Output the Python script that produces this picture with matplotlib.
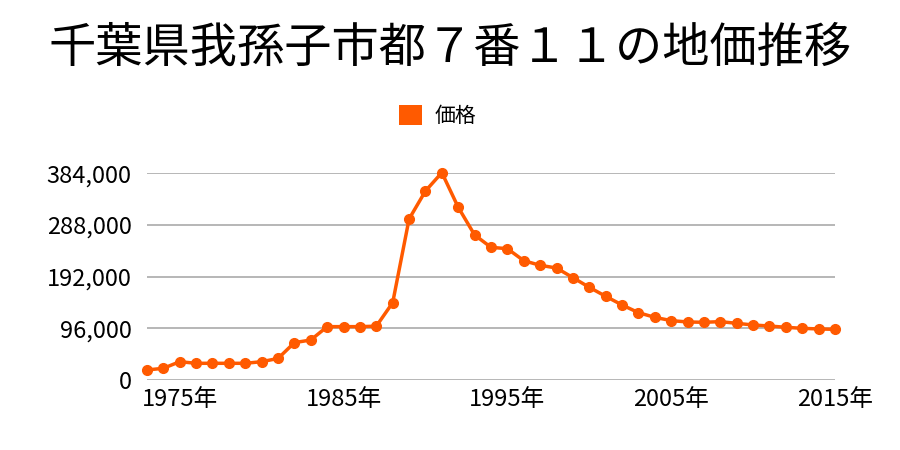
import matplotlib
matplotlib.use("Agg")
import matplotlib.pyplot as plt
from matplotlib.ticker import FuncFormatter
from matplotlib.patches import Patch

plt.rcParams['font.family'] = ['Noto Sans CJK JP', 'DejaVu Sans']

title = "千葉県我孫子市都７番１１の地価推移"
series_name = "価格"
years = list(range(1973, 2016))
prices = [18600, 21700, 34000, 31000, 31000, 31000, 31000, 34000, 40000, 69400,
          74300, 99100, 99100, 99100, 100000, 143700, 299200, 351200, 385300, 320900,
          269500, 246500, 244000, 221700, 213100, 208100, 190200, 172200, 155500, 139400,
          125100, 116400, 110300, 107800, 107200, 108400, 105300, 102200, 100300, 97900,
          96000, 94800, 94100]
y_ticks = [0, 96000, 192000, 288000, 384000]
x_ticks = [1975, 1985, 1995, 2005, 2015]

color = "#FF5A00"

fig = plt.figure(figsize=(9, 4.5), dpi=100)
ax = fig.add_axes([0.1633, 0.1556, 0.9278 - 0.1633, 0.6148 - 0.1556])

ax.plot(years, prices, color=color, lw=2.5, marker='o', ms=7, label=series_name,
        clip_on=False, zorder=3)

ax.set_xlim(years[0], years[-1])
ax.set_ylim(0, 384000)
ax.set_yticks(y_ticks)
ax.set_xticks(x_ticks)
ax.yaxis.set_major_formatter(FuncFormatter(lambda v, p: f"{int(v):,}"))
ax.xaxis.set_major_formatter(FuncFormatter(lambda v, p: f"{int(v)}年"))
ax.grid(axis='y', color='#aaaaaa', lw=1.2)
ax.set_axisbelow(True)
for s in ax.spines.values():
    s.set_visible(False)
ax.tick_params(length=0, labelsize=17, colors='black')
ax.tick_params(axis='y', pad=11)
ax.tick_params(axis='x', pad=6)

fig.text(0.5, 0.893, title, ha='center', va='center', fontsize=34)

fig.legend(handles=[Patch(facecolor=color, edgecolor='none', label=series_name)],
           loc='center', bbox_to_anchor=(0.486, 0.742), frameon=False,
           fontsize=15, handlelength=1.1, handleheight=1.1, handletextpad=0.6)

fig.savefig("out.png", dpi=100)
